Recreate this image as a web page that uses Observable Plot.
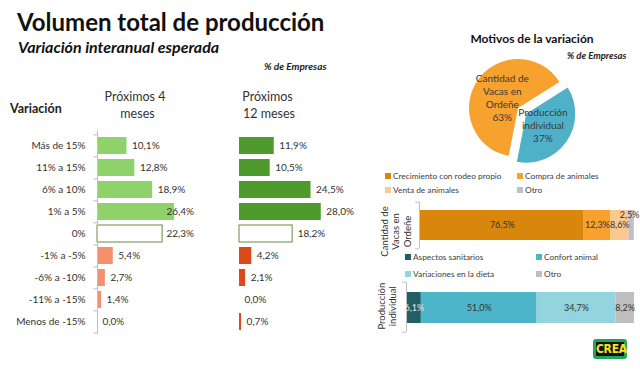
<!DOCTYPE html>
<html><head><meta charset="utf-8">
<script src="https://cdn.jsdelivr.net/npm/d3@7"></script>
<script src="https://cdn.jsdelivr.net/npm/@observablehq/plot@0.6"></script>
<style>
html,body{margin:0;padding:0;background:#fff;}
#root{position:relative;width:640px;height:372px;overflow:hidden;font-family:Lato,"Open Sans",sans-serif;color:#333;background:#fff;}
.t{position:absolute;white-space:nowrap;line-height:1;}
.plot{position:absolute;}
.plot svg{overflow:visible;background:none;}
.lg{position:absolute;display:grid;font-size:8.3px;color:#404040;line-height:1;white-space:nowrap;}
.lg span.sw{display:inline-block;width:6px;height:6px;margin-right:2px;vertical-align:0px;}
</style></head><body><div id="root"></div><script>
// ---------- DATA ----------
const categories = ["Más de 15%", "11% a 15%", "6% a 10%", "1% a 5%", "0%", "-1% a -5%", "-6% a -10%", "-11% a -15%", "Menos de -15%"];
const next4 = [10.1, 12.8, 18.9, 26.4, 22.3, 5.4, 2.7, 1.4, 0.0];
const next12 = [11.9, 10.5, 24.5, 28.0, 18.2, 4.2, 2.1, 0.0, 0.7];
const pieLabels = ["Cantidad de\nVacas en\nOrdeñe", "Producción\nindividual"];
const pieValues = [63, 37];
const vacasGroup = "Cantidad de\nVacas en\nOrdeñe";
const vacasMotives = ["Crecimiento con rodeo propio", "Compra de animales", "Venta de animales", "Otro"];
const vacasValues = [76.5, 12.3, 8.6, 2.5];
const prodGroup = "Producción\nindividual";
const prodMotives = ["Aspectos sanitarios", "Confort animal", "Variaciones en la dieta", "Otro"];
const prodValues = [6.1, 51.0, 34.7, 8.2];

// ---------- STYLE ----------
const vacasColors = ["#d9860c", "#f8a12f", "#fbc98f", "#bfbfc4"];
const prodColors = ["#215e66", "#4cb5c9", "#93d4df", "#bfbfbf"];
const pieColors = ["#f7a12e", "#4eb1c8"];
const fmt = v => v.toFixed(1).replace(".", ",") + "%";
const root = document.getElementById("root");

function txt(s, x, base, o = {}) {
  const fs = o.size || 11;
  const d = document.createElement("div");
  d.className = "t";
  d.textContent = s;
  d.style.left = x + "px";
  d.style.top = (base - 0.887 * fs) + "px";
  d.style.fontSize = fs + "px";
  if (o.weight) d.style.fontWeight = o.weight;
  if (o.italic) d.style.fontStyle = "italic";
  if (o.color) d.style.color = o.color;
  if (o.anchor === "middle") d.style.transform = "translateX(-50%)";
  root.appendChild(d);
}
function place(node, left, top) {
  const w = document.createElement("div");
  w.className = "plot";
  w.style.left = left + "px";
  w.style.top = top + "px";
  w.appendChild(node);
  root.appendChild(w);
}

// ---------- TEXTS ----------
txt("Volumen total de producción", 17, 31, {size: 24, weight: 700, color: "#111"});
txt("Variación interanual esperada", 18, 53.5, {size: 16, weight: 700, italic: true, color: "#111"});
txt("% de Empresas", 264, 70, {size: 10, weight: 700, italic: true, color: "#222"});
txt("Variación", 10, 114, {size: 12.5, weight: 700, color: "#222"});
txt("Próximos 4", 135, 102, {size: 12.5, anchor: "middle"});
txt("meses", 137.5, 119, {size: 12.5, anchor: "middle"});
txt("Próximos", 267.5, 102, {size: 12.5, anchor: "middle"});
txt("12 meses", 269, 119, {size: 12.5, anchor: "middle"});
txt("Motivos de la variación", 532, 44, {size: 12, weight: 700, anchor: "middle", color: "#111"});
txt("% de Empresas", 567, 59, {size: 9.5, weight: 700, italic: true, color: "#222"});

// ---------- SIDE BAR CHARTS ----------
const step = 22.35;
function sidePlot(values, o) {
  const rows = categories.map((cat, i) => ({cat, v: values[i], i}));
  const marks = [
    Plot.barX(rows, {x: "v", y: "cat",
      fill: d => d.i < 4 ? o.pos : d.i === 4 ? "#ffffff" : o.neg,
      stroke: d => d.i === 4 ? o.zeroStroke : "none", strokeWidth: 1}),
    Plot.text(rows, {x: d => Math.min(d.v, o.clampV), y: "cat", text: d => fmt(d.v),
      textAnchor: "start", dx: 5, fontSize: 10, fill: "#333"})
  ];
  if (o.axis) {
    marks.push(
      Plot.ruleX([0], {stroke: "#bfbfbf"}),
      Plot.ruleY(categories, {y: d => d, x1: -1.3, x2: 0, dy: -step / 2, stroke: "#bfbfbf"}),
      Plot.ruleY(categories.slice(-1), {y: d => d, x1: -1.3, x2: 0, dy: step / 2, stroke: "#bfbfbf"}),
      Plot.axisY({tickSize: 0, tickPadding: 12, fontSize: 10, fill: "#333", label: null})
    );
  }
  return Plot.plot({
    width: o.width, height: 222,
    marginLeft: o.x0, marginRight: 0, marginTop: 11, marginBottom: 8,
    style: {fontFamily: "Lato, 'Open Sans', sans-serif", background: "none", overflow: "visible"},
    x: {domain: [0, 30], range: [o.x0, o.x0 + 30 * 2.92], axis: null},
    y: {domain: categories, range: [12.8, 12.8 + 9 * step], paddingInner: 0.217, paddingOuter: 0.1085, axis: null},
    color: {type: "identity"},
    marks
  });
}
place(sidePlot(next4, {pos: "#8fd26b", neg: "#f4916c", zeroStroke: "#6b8a3e", axis: true, x0: 97, width: 210, clampV: 21.9}), 0, 120);
place(sidePlot(next12, {pos: "#4f9a2c", neg: "#dc4a1c", zeroStroke: "#6b8a3e", axis: false, x0: 39, width: 140, clampV: 100}), 200, 120);

// ---------- PIE ----------
const pieStart = 191 * Math.PI / 180;
const explodeSlice = 1, explodeDist = 10 / 49;
const arcs = d3.pie().sort(null).startAngle(pieStart).endAngle(pieStart + 2 * Math.PI)(pieValues);
const pieRows = arcs.map((a, i) => {
  const mid = (a.startAngle + a.endAngle) / 2;
  const off = i === explodeSlice ? explodeDist : 0;
  const k = 0.4;
  return {i, label: pieLabels[i] + "\n" + pieValues[i] + "%", mid, off,
    x: Math.sin(mid) * (k + off), y: -Math.cos(mid) * (k + off)};
});
function pieRender(index, scales) {
  const cx = scales.x(0), cy = scales.y(0), r = scales.x(1) - cx;
  const g = d3.create("svg:g");
  const arcGen = d3.arc().innerRadius(0).outerRadius(r);
  arcs.forEach((a, i) => {
    const row = pieRows[i];
    const dx = Math.sin(row.mid) * row.off * r, dy = -Math.cos(row.mid) * row.off * r;
    g.append("path").attr("d", arcGen(a)).attr("fill", pieColors[i])
      .attr("transform", `translate(${cx + dx},${cy + dy})`);
  });
  return g.node();
}
place(Plot.plot({
  width: 200, height: 140, margin: 0,
  style: {fontFamily: "Lato, 'Open Sans', sans-serif", background: "none", overflow: "visible"},
  x: {domain: [-1, 1], range: [29, 127], axis: null},
  y: {domain: [-1, 1], range: [19, 117], axis: null},
  marks: [
    pieRender,
    Plot.text(pieRows, {x: "x", y: "y", text: "label", fontSize: 10, lineHeight: 1.3, fill: "#3a3a3a"})
  ]
}), 440, 40);

// ---------- STACKED BARS ----------
function labelFill(c) { return d3.hsl(c).l < 0.35 ? "#e8e8e8" : "#333"; }
function stackPlot(group, motives, values, colors, o) {
  const rows = motives.map((m, i) => ({g: group, m, v: values[i], c: colors[i]}));
  const mid = (o.y0 + o.y1) / 2;
  const top = o.mt, bot = o.h - o.mb;
  return Plot.plot({
    width: 270, height: o.h, marginLeft: o.x0, marginRight: 6, marginTop: o.mt, marginBottom: o.mb,
    style: {fontFamily: "Lato, 'Open Sans', sans-serif", background: "none", overflow: "visible"},
    x: {domain: [0, 100], range: [o.x0 + 1, 264], axis: null},
    y: {domain: [group], range: [o.y0, o.y1], padding: 0, axis: null},
    color: {type: "identity"},
    marks: [
      Plot.barX(rows, {x: "v", y: "g", fill: "c"}),
      Plot.ruleX([0], {stroke: "#bfbfbf", dx: -1}),
      Plot.ruleY([group], {y: d => d, x1: -1.8, x2: 0, dx: -1, dy: top - mid, stroke: "#bfbfbf"}),
      Plot.ruleY([group], {y: d => d, x1: -1.8, x2: 0, dx: -1, dy: bot - mid, stroke: "#bfbfbf"}),
      Plot.text(rows, Plot.stackX({x: "v", y: "g", text: d => d.v >= 5 ? fmt(d.v) : null, fontSize: 9, fill: d => labelFill(d.c)})),
      Plot.text(rows, Plot.stackX({x: "v", y: "g", text: d => d.v < 5 ? fmt(d.v) : null, fontSize: 9, dy: -10, dx: -2, fill: "#333"})),
      Plot.text([group], {frameAnchor: "left", textAnchor: "middle", text: d => d, rotate: -90, dx: o.labelDx, dy: o.labelDy, fontSize: 9.5, lineHeight: 1.23, fill: "#333"})
    ]
  });
}
place(stackPlot(vacasGroup, vacasMotives, vacasValues, vacasColors, {h: 55, mt: 3.7, mb: 4.7, y0: 12, y1: 42, x0: 49, labelDx: -24, labelDy: 6}), 370, 198);
place(stackPlot(prodGroup, prodMotives, prodValues, prodColors, {h: 54, mt: 1.7, mb: 2.3, y0: 11.7, y1: 43.3, x0: 36, labelDx: -19.7, labelDy: -1}), 370, 280);

// ---------- LEGENDS ----------
function legend(motives, colors, left, top, colW, rowH) {
  const d = document.createElement("div");
  d.className = "lg";
  d.style.left = left + "px";
  d.style.top = top + "px";
  d.style.gridTemplateColumns = `${colW}px ${colW}px`;
  d.style.gridAutoRows = rowH + "px";
  motives.forEach((m, i) => {
    const it = document.createElement("div");
    it.innerHTML = `<span class="sw" style="background:${colors[i]}"></span>${m}`;
    d.appendChild(it);
  });
  root.appendChild(d);
}
legend(vacasMotives, vacasColors, 385, 172, 132, 14);
legend(prodMotives, prodColors, 405, 253, 131, 17);

// ---------- LOGO ----------
const logo = document.createElement("div");
logo.style.cssText = "position:absolute;left:593px;top:339px;width:34px;height:20px;background:#22a45a;border-radius:3px;";
logo.innerHTML = '<div style="position:absolute;left:3px;top:3px;width:28px;height:14px;background:#111;color:#f3e21c;font:bold 12px \'Liberation Sans Narrow\',\'DejaVu Sans Condensed\',sans-serif;line-height:14px;text-align:center;letter-spacing:-0.3px;">CREA</div>';
root.appendChild(logo);
</script></body></html>
